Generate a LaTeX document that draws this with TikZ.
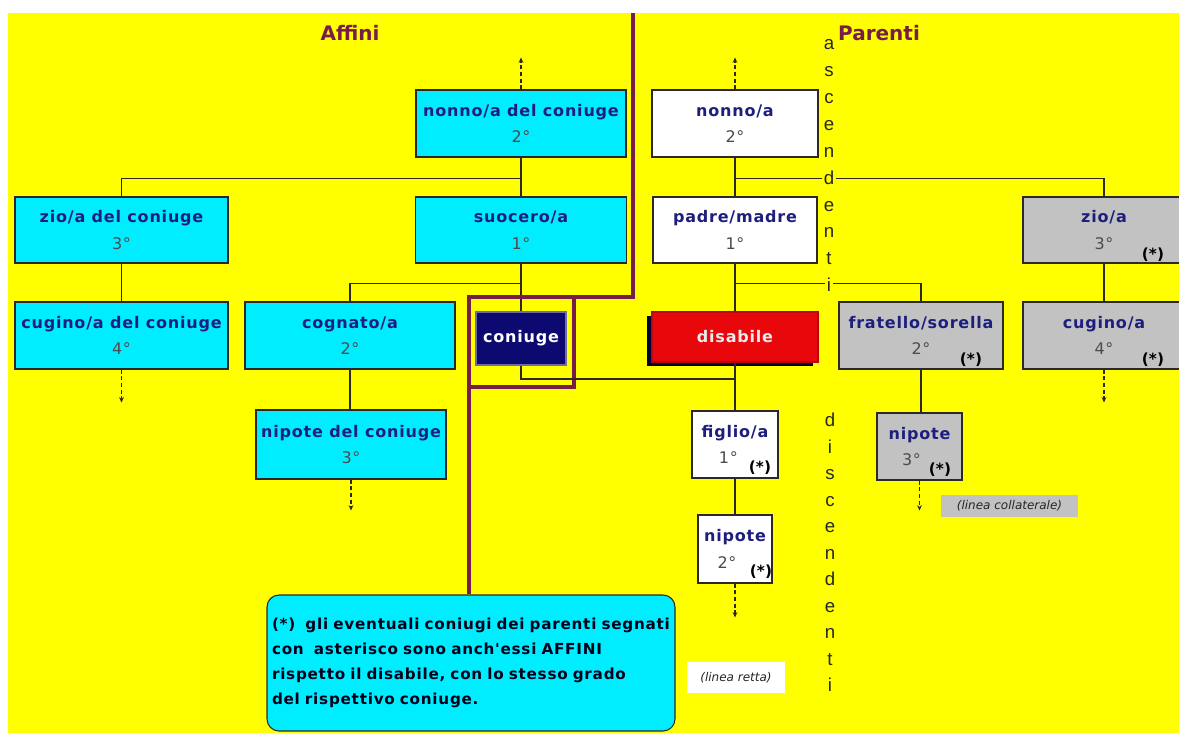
\documentclass[tikz,border=0pt]{standalone}
\usepackage{fontspec}
\setmainfont{DejaVu Sans}
\newfontfamily\boxfont{DejaVu Sans}[LetterSpace=5]
\newfontfamily\letterfont{Liberation Sans}
\usetikzlibrary{positioning,arrows.meta,shadows}

\definecolor{bgyellow}{RGB}{255,255,0}
\definecolor{boxcyan}{RGB}{0,236,255}
\definecolor{boxgray}{RGB}{194,194,194}
\definecolor{inknavy}{RGB}{30,30,125}
\definecolor{degray}{RGB}{75,75,75}
\definecolor{linedark}{RGB}{45,40,40}
\definecolor{viola}{RGB}{120,28,72}
\definecolor{coniugeblue}{RGB}{12,10,112}
\definecolor{disred}{RGB}{232,8,12}

\newcommand{\grado}[2]{\textcolor{inknavy}{\bfseries #1}\\\textcolor{degray}{#2}}

\begin{document}
\begin{tikzpicture}[x=0.75pt, y=-0.75pt, >={Stealth[length=4pt, width=3.5pt]},
  sz/.style 2 args={minimum width=#1*0.75pt, minimum height=#2*0.75pt},
  box/.style={draw=linedark, line width=0.8pt, inner sep=0pt, align=center,
    font=\boxfont\fontsize{12}{20}\selectfont},
  af/.style={box, fill=boxcyan}, pa/.style={box, fill=white}, co/.style={box, fill=boxgray},
  conn/.style={draw=linedark, line width=0.9pt},
  dashup/.style={draw=linedark, line width=0.9pt, dashed, dash pattern=on 3pt off 2pt, ->},
  star/.style={font=\bfseries\fontsize{11.5}{11.5}\selectfont, inner sep=0pt},
  vlet/.style={font=\letterfont\fontsize{14}{14}\selectfont, text=black!85,
    fill=bgyellow, inner sep=1.5pt, text height=10pt, text depth=0pt},
  title/.style={font=\bfseries\fontsize{15}{15}\selectfont, text=viola},
  tag/.style={font=\itshape\fontsize{9}{9}\selectfont, text=black!85, inner sep=0pt}]
\path[use as bounding box, clip] (0,0) rectangle (1179,733);
\fill[white] (0,0) rectangle (1179,733);
\fill[bgyellow] (8,13) rectangle (1179,733);

% affini
\node[title] (taff) at (350,33) {Affini};
\node[af, sz={210}{67}] (nonnoc) at (521,123.5) {\grado{nonno/a del coniuge}{2°}};
\node[af, sz={213}{66}] (zioc) at (121.5,230) {\grado{zio/a del coniuge}{3°}};
\node[af, sz={211}{66}] (suoc) at (521,230) {\grado{suocero/a}{1°}};
\node[af, sz={213}{67}] (cugc) at (121.5,335.5) {\grado{cugino/a del coniuge}{4°}};
\node[af, sz={210}{67}] (cogn) at (350,335.5) {\grado{cognato/a}{2°}};
\node[af, sz={190}{69}] (nipc) at (351,444.5) {\grado{nipote del coniuge}{3°}};
\node[box, fill=coniugeblue, draw=coniugeblue!60!white, text=white, font=\boxfont\bfseries\fontsize{12}{14}\selectfont,
  sz={90}{53}] (coniuge) at (521,338.5) {coniuge};
\node[draw=viola, line width=3.2pt, outer sep=0pt, sz={105}{90}] (cbox) at (521.5,342) {};

% parenti
\node[title] (tpar) at (879,33) {Parenti};
\node[pa, sz={166}{67}] (nonno) at (735,123.5) {\grado{nonno/a}{2°}};
\node[pa, sz={164}{66}] (padre) at (735,230) {\grado{padre/madre}{1°}};
\node[co, sz={162}{66}] (zio) at (1104,230) {\grado{zio/a}{3°}};
\node[box, fill=disred, draw=disred!80!black, text=white!92!black, sz={166}{50},
  font=\boxfont\bfseries\fontsize{12}{14}\selectfont,
  drop shadow={shadow xshift=-3.8pt, shadow yshift=-3pt, fill=black!80!blue, opacity=1}] (dis) at (735,337) {disabile};
\node[co, sz={164}{67}] (frat) at (921,335.5) {\grado{fratello/sorella}{2°}};
\node[co, sz={162}{67}] (cug) at (1104,335.5) {\grado{cugino/a}{4°}};
\node[pa, sz={86}{67}] (figlio) at (735,444.5) {\grado{figlio/a}{1°\hspace{10pt}}};
\node[co, sz={85}{67}] (nipg) at (919.5,446.5) {\grado{nipote}{3°\hspace{12pt}}};
\node[pa, sz={74}{68}] (nipw) at (735,549) {\grado{nipote}{2°\hspace{12pt}}};

\node[star] (s1) at (1153,255) {(*)};
\node[star] (s2) at (971,360) {(*)};
\node[star] (s3) at (1153,360) {(*)};
\node[star] (s4) at (760,468) {(*)};
\node[star] (s5) at (940,470) {(*)};
\node[star] (s6) at (761,572) {(*)};

\node[tag, fill=boxgray, sz={137}{22}] (coll) at (1009.5,506) {(linea collaterale)};
\node[tag, fill=white, sz={98}{31}] (retta) at (736,677.5) {(linea retta)};

\node[draw=linedark, line width=0.8pt, fill=boxcyan, rounded corners=9pt, sz={408}{136},
  text width=398*0.75pt, align=left, inner sep=0pt, text=black!90!blue,
  font=\boxfont\bfseries\fontsize{11.4}{18.75}\selectfont] (nota) at (471,663)
  {(*)\ \ gli eventuali coniugi dei parenti segnati\\
   con\ \ asterisco sono anch'essi AFFINI\\
   rispetto il disabile, con lo stesso grado\\
   del rispettivo coniuge.};

% linee
\coordinate (vtop) at (633,13);
\coordinate (join) at (735,379);
\draw[conn] (nonnoc.south) -- (suoc.north);
\draw[conn] (nonnoc.south) ++(0,21) -| (zioc.north);
\draw[conn] (zioc.south) -- (cugc.north);
\draw[conn] (suoc.south) -- (coniuge.north);
\draw[conn] (suoc.south) ++(0,20) -| (cogn.north);
\draw[conn] (cogn.south) -- (cogn.south |- nipc.north);
\draw[conn] (coniuge.south) |- (join);
\draw[conn] (nonno.south) -- (padre.north);
\draw[conn] (nonno.south) ++(0,21) -| (zio.north);
\draw[conn] (padre.south) -- (dis.north);
\draw[conn] (padre.south) ++(0,20) -| (frat.north);
\draw[conn] (dis.south) -- (figlio.north);
\draw[conn] (zio.south) -- (cug.north);
\draw[conn] (frat.south) -- (frat.south |- nipg.north);
\draw[conn] (figlio.south) -- (nipw.north);
\draw[viola, line width=3.2pt] (vtop) |- (cbox.north west) -- (cbox.west |- nota.north);

\draw[dashup] (nonnoc.north) -- ++(0,-32);
\draw[dashup] (nonno.north) -- ++(0,-32);
\draw[dashup] (cugc.south) -- ++(0,33);
\draw[dashup] (nipc.south) -- ++(0,31);
\draw[dashup] (cug.south) -- ++(0,33);
\draw[dashup] (nipg.south) -- ++(0,30);
\draw[dashup] (nipw.south) -- ++(0,34);

% ascendenti / discendenti
\foreach \l [count=\i] in {a,s,c,e,n,d,e,n,t,i}
  \node[vlet] (asc\i) at (829,{43+26.9*(\i-1)}) {\l};
\foreach \l [count=\i] in {d,i,s,c,e,n,d,e,n,t,i}
  \node[vlet] (disc\i) at (830,{420+26.5*(\i-1)}) {\l};
\end{tikzpicture}
\end{document}
